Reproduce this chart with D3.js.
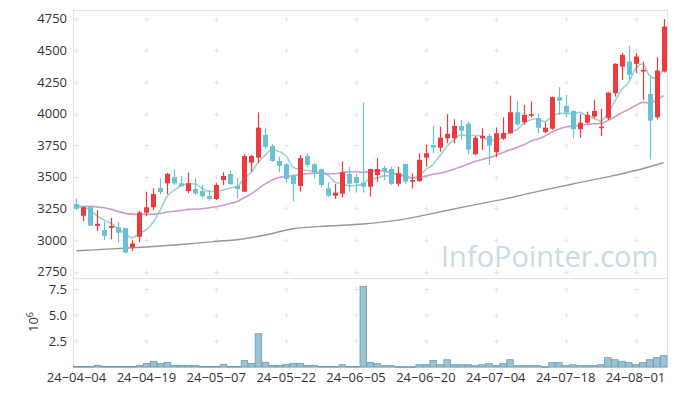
<!DOCTYPE html>
<html>
<head>
<meta charset="utf-8">
<script src="https://cdn.jsdelivr.net/npm/d3@7.9.0/dist/d3.min.js"></script>
<style>
  body { margin: 0; background: #fff; }
  text { font-family: "Open Sans", sans-serif; }
</style>
</head>
<body>
<svg id="chart" width="677" height="396"></svg>
<script>
// trading days, yy-mm-dd
const dates = [
  '24-04-04','24-04-05','24-04-08','24-04-09','24-04-11','24-04-12','24-04-15','24-04-16','24-04-17','24-04-18',
  '24-04-19','24-04-22','24-04-23','24-04-24','24-04-25','24-04-26','24-04-29','24-04-30','24-05-02','24-05-03',
  '24-05-07','24-05-08','24-05-09','24-05-10','24-05-13','24-05-14','24-05-16','24-05-17','24-05-20','24-05-21',
  '24-05-22','24-05-23','24-05-24','24-05-27','24-05-28','24-05-29','24-05-30','24-05-31','24-06-03','24-06-04',
  '24-06-05','24-06-07','24-06-10','24-06-11','24-06-12','24-06-13','24-06-14','24-06-17','24-06-18','24-06-19',
  '24-06-20','24-06-21','24-06-24','24-06-25','24-06-26','24-06-27','24-06-28','24-07-01','24-07-02','24-07-03',
  '24-07-04','24-07-05','24-07-08','24-07-09','24-07-10','24-07-11','24-07-12','24-07-15','24-07-16','24-07-17',
  '24-07-18','24-07-19','24-07-22','24-07-23','24-07-24','24-07-25','24-07-26','24-07-29','24-07-30','24-07-31',
  '24-08-01','24-08-02','24-08-05','24-08-06','24-08-07'
];

const open = [
  3285, 3192, 3261, 3113, 3079, 3097, 3101, 3095, 2942, 3026,
  3216, 3259, 3412, 3449, 3497, 3449, 3388, 3404, 3388, 3348,
  3325, 3475, 3523, 3428, 3383, 3612, 3652, 3832, 3744, 3626,
  3600, 3509, 3428, 3665, 3600, 3560, 3409, 3351, 3367, 3523,
  3499, 3454, 3422, 3515, 3570, 3562, 3446, 3602, 3462, 3467,
  3652, 3752, 3731, 3805, 3805, 3903, 3919, 3679, 3805, 3824,
  3695, 3802, 3845, 4011, 3932, 3984, 3966, 3855, 3881, 4130,
  4061, 4022, 3877, 3929, 3977, 3885, 3964, 4162, 4373, 4412,
  4394, 4333, 4156, 3972, 4333
];
const high = [
  3330, 3265, 3264, 3238, 3145, 3177, 3143, 3100, 3000, 3232,
  3383, 3409, 3489, 3533, 3560, 3507, 3535, 3493, 3436, 3396,
  3454, 3536, 3546, 3493, 3679, 3673, 4010, 3885, 3758, 3660,
  3607, 3520, 3673, 3689, 3610, 3567, 3459, 3444, 3622, 3578,
  3523, 4089, 3565, 3649, 3588, 3581, 3578, 3605, 3528, 3687,
  3752, 3903, 3897, 3996, 3956, 3950, 3937, 3824, 3885, 3840,
  3891, 3970, 4143, 4101, 4069, 4097, 4003, 3929, 4135, 4209,
  4148, 4025, 3996, 4016, 4109, 4038, 4170, 4399, 4479, 4536,
  4479, 4412, 4289, 4447, 4748
];
const low = [
  3238, 3150, 3111, 3071, 2998, 3006, 2982, 2898, 2915, 2982,
  3190, 3238, 3362, 3362, 3436, 3422, 3370, 3356, 3335, 3311,
  3317, 3436, 3436, 3330, 3380, 3541, 3610, 3721, 3620, 3539,
  3457, 3306, 3383, 3578, 3489, 3416, 3343, 3325, 3337, 3383,
  3376, 3376, 3345, 3462, 3475, 3436, 3425, 3441, 3409, 3460,
  3581, 3687, 3699, 3766, 3766, 3792, 3681, 3673, 3713, 3594,
  3655, 3792, 3840, 3903, 3911, 3970, 3845, 3845, 3871, 3990,
  3972, 3805, 3810, 3919, 3964, 3824, 3950, 4135, 4267, 4267,
  4320, 4109, 3638, 3956, 4325
];
const close = [
  3248, 3259, 3113, 3129, 3034, 3111, 3058, 2901, 2974, 3219,
  3259, 3364, 3380, 3523, 3449, 3428, 3449, 3370, 3348, 3325,
  3436, 3507, 3444, 3404, 3665, 3665, 3889, 3737, 3626, 3588,
  3483, 3444, 3649, 3594, 3535, 3436, 3351, 3375, 3536, 3446,
  3451, 3422, 3562, 3562, 3543, 3444, 3528, 3462, 3475, 3634,
  3687, 3731, 3810, 3840, 3903, 3865, 3715, 3810, 3824, 3747,
  3845, 3847, 4011, 3916, 3990, 3996, 3889, 3889, 4130, 4103,
  4011, 3877, 3929, 3990, 4022, 3897, 4167, 4394, 4465, 4307,
  4452, 4346, 3945, 4341, 4689
];

// volume in millions of shares
const volumeM = [
  0.06, 0.06, 0.06, 0.16, 0.06, 0.06, 0.06, 0.06, 0.06, 0.16,
  0.35, 0.55, 0.35, 0.45, 0.16, 0.16, 0.16, 0.16, 0.06, 0.06,
  0.06, 0.26, 0.06, 0.06, 0.64, 0.35, 3.2, 0.45, 0.16, 0.16,
  0.26, 0.35, 0.35, 0.16, 0.16, 0.06, 0.06, 0.06, 0.22, 0.06,
  0.06, 7.76, 0.45, 0.32, 0.13, 0.13, 0.03, 0.03, 0.03, 0.22,
  0.22, 0.64, 0.22, 0.7, 0.22, 0.22, 0.22, 0.13, 0.22, 0.32,
  0.13, 0.32, 0.7, 0.13, 0.13, 0.13, 0.13, 0.03, 0.42, 0.42,
  0.13, 0.22, 0.13, 0.13, 0.13, 0.22, 0.9, 0.7, 0.55, 0.42,
  0.22, 0.42, 0.7, 0.9, 1.09
];

// moving averages as drawn
const ma5 = [
  3269, 3264, 3232, 3190, 3157, 3129, 3089, 3047, 3016, 3053,
  3082, 3143, 3239, 3349, 3395, 3429, 3446, 3444, 3409, 3384,
  3386, 3397, 3412, 3423, 3491, 3537, 3613, 3672, 3716, 3701,
  3665, 3576, 3558, 3552, 3541, 3532, 3513, 3458, 3447, 3429,
  3432, 3446, 3483, 3489, 3508, 3507, 3528, 3508, 3490, 3509,
  3557, 3598, 3667, 3740, 3794, 3830, 3827, 3827, 3823, 3792,
  3788, 3815, 3855, 3873, 3922, 3952, 3960, 3936, 3979, 4001,
  4004, 4002, 4010, 3982, 3966, 3943, 4001, 4094, 4189, 4246,
  4357, 4393, 4303, 4278, 4355
];
const ma20 = [
  3262, 3266, 3268, 3262, 3256, 3243, 3225, 3211, 3205, 3203,
  3203, 3205, 3210, 3222, 3228, 3235, 3243, 3245, 3248, 3256,
  3264, 3275, 3290, 3305, 3335, 3365, 3405, 3445, 3476, 3495,
  3504, 3508, 3521, 3525, 3529, 3530, 3525, 3525, 3534, 3541,
  3541, 3537, 3543, 3551, 3545, 3534, 3516, 3502, 3494, 3497,
  3507, 3521, 3529, 3542, 3560, 3581, 3600, 3621, 3636, 3651,
  3670, 3692, 3714, 3732, 3754, 3782, 3800, 3821, 3854, 3877,
  3894, 3901, 3907, 3914, 3920, 3922, 3945, 3974, 4006, 4034,
  4064, 4089, 4086, 4107, 4142
];
// long average, read at these candle positions
const maLongIdx = [0, 5, 10, 15, 20, 23, 27, 31, 36, 41, 46, 51, 56, 61, 66, 71, 76, 80, 84];
const maLong = [2915, 2930, 2945, 2965, 2990, 3003, 3040, 3090, 3111, 3127, 3158, 3211, 3269, 3322, 3385, 3444, 3500, 3550, 3612];

const priceTicks = [2750, 3000, 3250, 3500, 3750, 4000, 4250, 4500, 4750];
const volTicks = [2.5, 5.0, 7.5];
const dateTicks = ['24-04-04','24-04-19','24-05-07','24-05-22','24-06-05','24-06-20','24-07-04','24-07-18','24-08-01'];

const plotLeft = 73, plotRight = 667, plotTop = 10, plotSplit = 278, plotBottom = 367;

const svg = d3.select('#chart');

const x = d3.scaleBand().domain(dates).range([plotLeft, plotRight]);
const bw = x.bandwidth();
const cx = (d) => x(d) + bw / 2;

const y = d3.scaleLinear().domain([2700, 4820]).range([plotSplit, plotTop]);
const yv = d3.scaleLinear().domain([0, 8.56]).range([plotBottom, plotSplit]);

// frame
svg.append('rect')
  .attr('x', plotLeft + 0.5).attr('y', plotTop + 0.5)
  .attr('width', plotRight - plotLeft).attr('height', plotBottom - plotTop)
  .attr('fill', 'none').attr('stroke', '#e3e3e3');
svg.append('line')
  .attr('x1', plotLeft).attr('x2', plotRight).attr('y1', plotSplit + 0.5).attr('y2', plotSplit + 0.5)
  .attr('stroke', '#e3e3e3');

// grid crosses
function cross(px, py) {
  svg.append('path')
    .attr('d', `M${px - 2.5},${py}H${px + 2.5}M${px},${py - 2.5}V${py + 2.5}`)
    .attr('stroke', '#e6e6e6').attr('stroke-width', 1);
}
dateTicks.forEach((d) => {
  const px = Math.round(cx(d)) + 0.5;
  priceTicks.forEach((t) => cross(px, Math.round(y(t)) + 0.5));
  volTicks.forEach((t) => cross(px, Math.round(yv(t)) + 0.5));
});

// watermark
svg.append('text')
  .attr('x', 441).attr('y', 267)
  .attr('font-size', 29)
  .attr('fill', '#c9dbe5')
  .text('InfoPointer.com');

// y axis labels
svg.append('g').selectAll('text').data(priceTicks).join('text')
  .attr('x', plotLeft - 6).attr('y', (d) => y(d) + 4.5)
  .attr('text-anchor', 'end').attr('font-size', 13).attr('fill', '#333')
  .text((d) => d);

svg.append('g').selectAll('text').data(volTicks).join('text')
  .attr('x', plotLeft - 6).attr('y', (d) => yv(d) + 4.5)
  .attr('text-anchor', 'end').attr('font-size', 13).attr('fill', '#333')
  .text(d3.format('.1f'));

const unit = svg.append('text')
  .attr('transform', 'translate(38,322) rotate(-90)')
  .attr('text-anchor', 'middle').attr('font-size', 13).attr('fill', '#333');
unit.append('tspan').text('10');
unit.append('tspan').attr('dy', -5).attr('font-size', 9).text('6');

// x labels
svg.append('g').selectAll('text').data(dateTicks).join('text')
  .attr('x', (d) => cx(d)).attr('y', 381.5)
  .attr('text-anchor', 'middle').attr('font-size', 13).attr('fill', '#333')
  .text((d) => d.replace(/-/g, '\u2212'));

// volume bars
svg.append('g').selectAll('rect').data(dates).join('rect')
  .attr('x', (d) => x(d) + 0.5)
  .attr('width', bw - 0.5)
  .attr('y', (d, i) => yv(volumeM[i]))
  .attr('height', (d, i) => Math.max(0.8, plotBottom - yv(volumeM[i])))
  .attr('fill', '#9bc2d3')
  .attr('stroke', '#6a9cb3')
  .attr('stroke-width', 0.8);

// moving averages
const line = d3.line().curve(d3.curveMonotoneX);
svg.append('path')
  .attr('d', line(maLongIdx.map((k, j) => [cx(dates[k]), y(maLong[j])])))
  .attr('fill', 'none').attr('stroke', '#8c8c8c').attr('stroke-width', 1.4).attr('opacity', 0.9);
svg.append('path')
  .attr('d', line(dates.map((d, i) => [cx(d), y(ma20[i])])))
  .attr('fill', 'none').attr('stroke', '#c27fc0').attr('stroke-width', 1.6).attr('opacity', 0.8);
svg.append('path')
  .attr('d', line(dates.map((d, i) => [cx(d), y(ma5[i])])))
  .attr('fill', 'none').attr('stroke', '#7fc9b8').attr('stroke-width', 1.6).attr('opacity', 0.8);

// candles
const up = '#ee3a3e', down = '#6ac1d7';
const candles = svg.append('g').selectAll('g').data(dates).join('g');
candles.append('line')
  .attr('x1', (d) => Math.round(cx(d)) + 0.5).attr('x2', (d) => Math.round(cx(d)) + 0.5)
  .attr('y1', (d, i) => y(high[i])).attr('y2', (d, i) => y(low[i]))
  .attr('stroke', (d, i) => (close[i] >= open[i] ? up : down))
  .attr('stroke-width', 1.2);
candles.append('rect')
  .attr('x', (d) => Math.round(cx(d)) - 2)
  .attr('width', 5)
  .attr('y', (d, i) => y(Math.max(open[i], close[i])))
  .attr('height', (d, i) => Math.max(1.5, Math.abs(y(open[i]) - y(close[i]))))
  .attr('fill', (d, i) => (close[i] >= open[i] ? up : down));
</script>
</body>
</html>
